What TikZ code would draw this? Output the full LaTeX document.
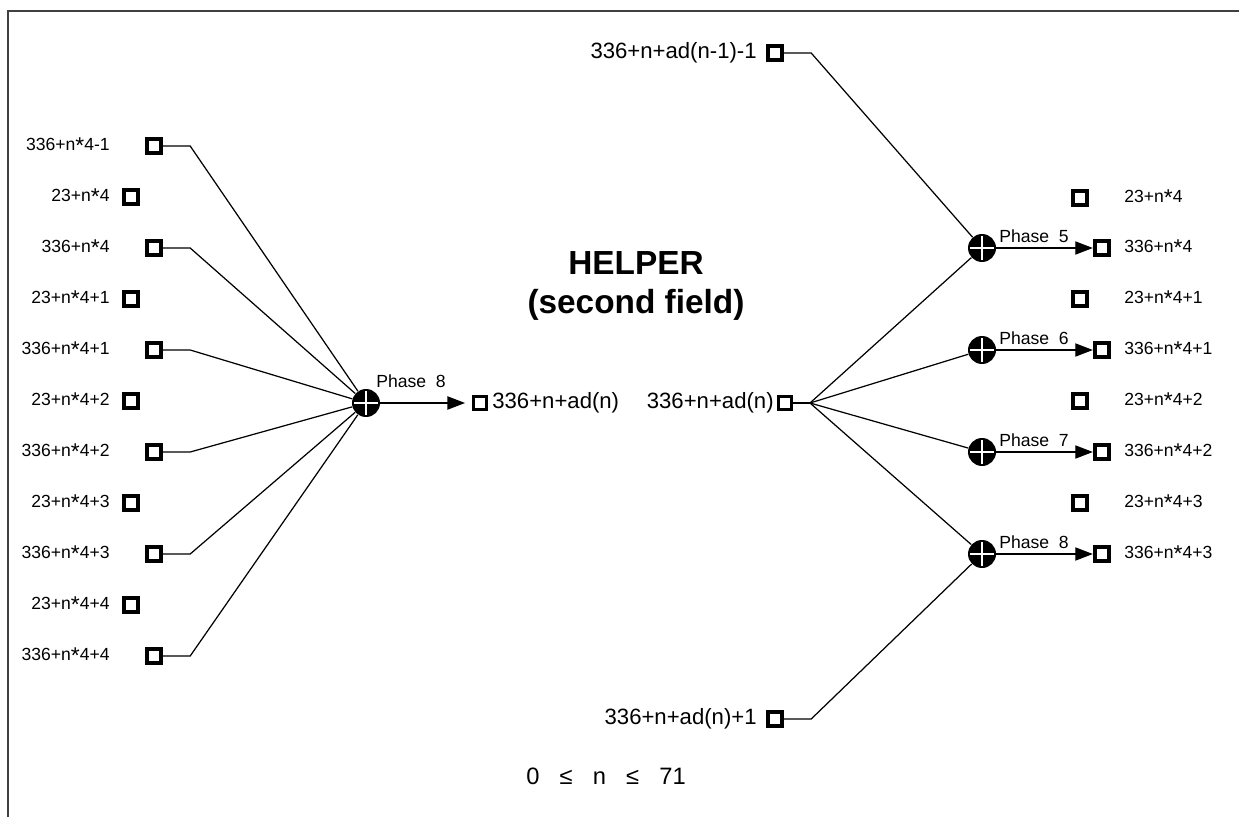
\documentclass[tikz,border=0pt]{standalone}
\usepackage{fontspec}
\setmainfont{Liberation Sans}
\usepackage{tikz}
\usetikzlibrary{positioning}
\usetikzlibrary{arrows.meta}

\newcommand{\mulstar}{{\fontsize{13}{13}\selectfont\raisebox{-0.3ex}{*}}}

\begin{document}
\begin{tikzpicture}[
    x=0.02cm, y=-0.02cm,
    pin/.style={draw,line width=2.2pt,minimum size=0.29cm,inner sep=0pt},
    smallpin/.style={draw,line width=1.9pt,minimum size=0.25cm,inner sep=0pt},
    adder/.style={circle,fill=black,minimum size=0.56cm,inner sep=0pt,
      path picture={\draw[white,line width=1.4pt]
        ([xshift=-0.24cm]path picture bounding box.center) -- ([xshift=0.24cm]path picture bounding box.center)
        ([yshift=-0.24cm]path picture bounding box.center) -- ([yshift=0.24cm]path picture bounding box.center);}},
    lbl/.style={inner sep=0pt,font=\fontsize{10}{12}\selectfont},
    sig/.style={inner sep=0pt,font=\fontsize{12.6}{15}\selectfont},
    phase/.style={inner sep=0pt,anchor=south west,font=\fontsize{10}{12}\selectfont},
    wire/.style={line width=0.7pt},
    flow/.style={line width=0.75pt,-{Triangle[length=10pt,width=7.5pt]}}
    ]

    \useasboundingbox (0,0) rectangle (1239,817);
    \draw[line width=1pt,black!75] (8,817) -- (8,11) -- (1239,11);

    % left inputs
    \foreach \i/\y/\t in {1/146/{336+n\mulstar4-1},2/248/{336+n\mulstar4},3/350/{336+n\mulstar4+1},
                          4/452/{336+n\mulstar4+2},5/554/{336+n\mulstar4+3},6/656/{336+n\mulstar4+4}}{
      \node[pin] (in\i) at (154,\y) {};
      \node[lbl,anchor=east] (inl\i) at (110,\y) {\t};
    }
    \foreach \i/\y/\t in {1/197/{23+n\mulstar4},2/299/{23+n\mulstar4+1},3/401/{23+n\mulstar4+2},
                          4/503/{23+n\mulstar4+3},5/605/{23+n\mulstar4+4}}{
      \node[pin] (aux\i) at (131,\y) {};
      \node[lbl,anchor=east] (auxl\i) at (110,\y) {\t};
    }

    \node[adder] (sumL) at (366,403) {};
    \foreach \i in {1,...,6}
      \draw[wire] (in\i.east) -- ++(27,0) -- (sumL);

    \node[smallpin] (res) at (480,403) {};
    \node[sig,anchor=west] (resl) at (492,403) {336+n+ad(n)};
    \draw[flow,shorten >=4pt] (sumL) -- (res);
    \node[phase] at (376,388) {Phase\ \ 8};

    \node[align=center,font=\bfseries\fontsize{19}{22.4}\selectfont] (title) at (636,286) {HELPER\\(second field)};

    % right side
    \node[smallpin] (hub) at (785,403) {};
    \node[sig,anchor=east] (hubl) at (774,403) {336+n+ad(n)};
    \coordinate (fork) at (810,403);
    \draw[wire] (hub) -- (fork);

    \node[pin] (prev) at (775,53) {};
    \node[sig,anchor=east] (prevl) at (757,53) {336+n+ad(n-1)-1};
    \node[pin] (next) at (775,719) {};
    \node[sig,anchor=east] (nextl) at (757,719) {336+n+ad(n)+1};

    \foreach \i/\y/\p/\t in {1/248/5/{336+n\mulstar4},2/350/6/{336+n\mulstar4+1},
                             3/452/7/{336+n\mulstar4+2},4/554/8/{336+n\mulstar4+3}}{
      \node[adder] (sumR\i) at (982,\y) {};
      \node[pin] (out\i) at (1102,\y) {};
      \node[lbl,anchor=west] (outl\i) at (1124,\y) {\t};
      \draw[wire] (fork) -- (sumR\i);
      \draw[flow] (sumR\i) -- (out\i);
      \node[phase] at (999,\y-5) {Phase\ \ \p};
    }
    \foreach \i/\y/\t in {1/198/{23+n\mulstar4},2/299/{23+n\mulstar4+1},3/401/{23+n\mulstar4+2},4/503/{23+n\mulstar4+3}}{
      \node[pin] (raux\i) at (1080,\y) {};
      \node[lbl,anchor=west] (rauxl\i) at (1124,\y) {\t};
    }

    \draw[wire] (prev.east) -- ++(27,0) -- (sumR1);
    \draw[wire] (next.east) -- ++(27,0) -- (sumR4);

    \node[font=\fontsize{13.5}{16}\selectfont] (range) at (606,776)
      {0\hspace{0.85em}≤\hspace{0.85em}n\hspace{0.85em}≤\hspace{0.85em}71};

  \end{tikzpicture}
\end{document}
